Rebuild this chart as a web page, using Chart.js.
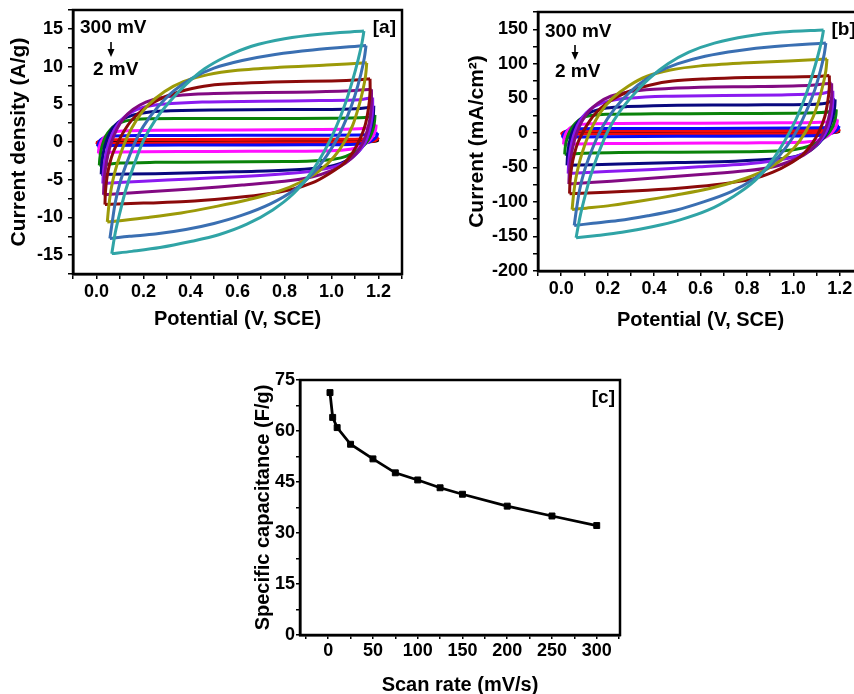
<!DOCTYPE html>
<html><head><meta charset="utf-8">
<script src="https://cdn.jsdelivr.net/npm/chart.js@4.4.0/dist/chart.umd.min.js"></script>
<style>
html,body{margin:0;padding:0;width:854px;height:694px;overflow:hidden;background:#fff;position:relative}
canvas{position:absolute}
</style></head><body>
<canvas id="ca" width="420" height="340" style="left:0;top:0"></canvas>
<canvas id="cb" width="413" height="340" style="left:460px;top:0"></canvas>
<canvas id="cc" width="400" height="350" style="left:230px;top:355px"></canvas>
<script>
// ---------- DATA ----------
const scanRates = [300, 250, 200, 150, 125, 100, 75, 50, 25, 10, 5, 2]; // mV/s
const curveColors = ['#30A4A6','#3A6FB2','#9C9A08','#8B0A0A','#820A82','#8A1AF0','#08087E','#0A820A','#FF10FF','#0A0AF5','#F50A0A','#000000'];

// Panel [a]: current density (A/g) vs potential (V) — forward (anodic) and reverse (cathodic) sweeps
const aForward = [
 [[0.065,-14.8],[0.08,-12.0],[0.1,-9.3],[0.125,-6.3],[0.16,-3.0],[0.2,0.2],[0.25,2.9],[0.31,5.3],[0.38,7.6],[0.46,9.7],[0.55,11.3],[0.66,12.7],[0.8,13.7],[0.95,14.3],[1.138,14.7]],
 [[0.057,-12.8],[0.067,-10.6],[0.08,-8.0],[0.1,-5.4],[0.126,-3.0],[0.16,-0.3],[0.2,2.1],[0.26,4.6],[0.33,6.8],[0.41,8.5],[0.5,9.8],[0.62,10.8],[0.76,11.6],[0.92,12.2],[1.147,12.8]],
 [[0.046,-10.6],[0.052,-8.6],[0.062,-6.3],[0.078,-4.0],[0.1,-1.8],[0.13,0.6],[0.17,2.9],[0.22,4.9],[0.29,6.7],[0.37,8.0],[0.47,8.9],[0.6,9.5],[0.78,9.9],[0.98,10.2],[1.15,10.5]],
 [[0.036,-8.3],[0.038,-6.6],[0.045,-4.6],[0.056,-2.9],[0.072,-1.3],[0.095,0.2],[0.12,1.6],[0.15,2.9],[0.19,4.1],[0.24,5.2],[0.3,6.1],[0.38,6.9],[0.48,7.5],[0.62,7.8],[0.8,8.0],[1.0,8.1],[1.12,8.25],[1.164,8.4]],
 [[0.03,-7.0],[0.032,-5.4],[0.038,-3.6],[0.048,-1.8],[0.063,-0.1],[0.085,1.6],[0.115,3.1],[0.155,4.3],[0.21,5.3],[0.28,5.9],[0.4,6.3],[0.6,6.5],[0.85,6.6],[1.08,6.8],[1.17,7.0]],
 [[0.027,-5.5],[0.029,-4.2],[0.034,-2.7],[0.043,-1.2],[0.057,0.3],[0.077,1.7],[0.105,2.9],[0.145,3.9],[0.2,4.6],[0.28,5.0],[0.45,5.3],[0.7,5.4],[0.95,5.5],[1.12,5.6],[1.175,5.9]],
 [[0.02,-4.3],[0.022,-3.1],[0.027,-1.8],[0.035,-0.6],[0.048,0.6],[0.066,1.7],[0.092,2.6],[0.13,3.3],[0.19,3.8],[0.28,4.1],[0.5,4.25],[0.8,4.3],[1.05,4.35],[1.14,4.5],[1.18,4.8]],
 [[0.012,-3.1],[0.014,-2.2],[0.019,-1.2],[0.027,-0.2],[0.04,0.8],[0.058,1.6],[0.085,2.3],[0.125,2.8],[0.19,3.05],[0.4,3.1],[0.7,3.1],[1.0,3.15],[1.12,3.2],[1.165,3.35],[1.185,3.6]],
 [[0.008,-1.5],[0.01,-0.9],[0.015,-0.3],[0.024,0.3],[0.04,0.85],[0.065,1.25],[0.11,1.45],[0.25,1.55],[0.6,1.6],[0.95,1.65],[1.12,1.75],[1.17,1.95],[1.19,2.3]],
 [[0.004,-0.6],[0.008,-0.2],[0.016,0.25],[0.035,0.6],[0.07,0.8],[0.2,0.86],[0.6,0.88],[1.0,0.9],[1.15,0.95],[1.185,1.05],[1.197,1.2]],
 [[0.0,-0.3],[0.006,0.0],[0.02,0.2],[0.06,0.3],[0.3,0.33],[0.8,0.35],[1.1,0.38],[1.18,0.45],[1.2,0.6]],
 [[0.0,-0.15],[0.01,0.05],[0.05,0.12],[0.5,0.15],[1.0,0.16],[1.17,0.2],[1.2,0.3]]
];
const aReverse = [
 [[1.138,14.7],[1.13,13.2],[1.114,11.0],[1.09,8.2],[1.06,5.2],[1.02,2.0],[0.97,-1.2],[0.91,-4.2],[0.84,-6.8],[0.75,-9.0],[0.64,-10.9],[0.52,-12.3],[0.4,-13.2],[0.27,-14.0],[0.15,-14.5],[0.065,-14.8]],
 [[1.147,12.8],[1.14,11.2],[1.125,9.0],[1.1,6.2],[1.07,3.6],[1.03,0.8],[0.98,-1.8],[0.92,-4.2],[0.84,-6.4],[0.74,-8.2],[0.62,-9.7],[0.5,-10.8],[0.38,-11.6],[0.25,-12.2],[0.14,-12.5],[0.057,-12.8]],
 [[1.15,10.5],[1.145,8.8],[1.133,6.8],[1.115,4.6],[1.09,2.2],[1.055,0.0],[1.01,-2.0],[0.95,-3.8],[0.87,-5.3],[0.77,-6.6],[0.64,-7.7],[0.5,-8.6],[0.36,-9.4],[0.22,-10.0],[0.11,-10.4],[0.046,-10.6]],
 [[1.164,8.4],[1.164,6.6],[1.157,4.4],[1.143,2.2],[1.12,0.3],[1.09,-1.4],[1.05,-2.9],[0.99,-4.2],[0.92,-5.4],[0.83,-6.3],[0.7,-7.0],[0.55,-7.5],[0.38,-7.9],[0.2,-8.1],[0.036,-8.3]],
 [[1.17,7.0],[1.17,5.3],[1.165,3.4],[1.153,1.6],[1.135,0.0],[1.105,-1.5],[1.06,-2.8],[1.0,-3.8],[0.92,-4.6],[0.8,-5.2],[0.62,-5.7],[0.42,-6.2],[0.22,-6.6],[0.03,-7.0]],
 [[1.175,5.9],[1.175,4.4],[1.17,2.8],[1.16,1.3],[1.143,-0.1],[1.115,-1.3],[1.075,-2.4],[1.02,-3.2],[0.93,-3.8],[0.8,-4.2],[0.6,-4.6],[0.4,-4.9],[0.2,-5.2],[0.027,-5.5]],
 [[1.18,4.8],[1.178,3.6],[1.171,2.3],[1.158,1.0],[1.138,-0.3],[1.11,-1.4],[1.07,-2.4],[1.01,-3.1],[0.92,-3.5],[0.75,-3.8],[0.5,-4.0],[0.25,-4.2],[0.02,-4.3]],
 [[1.185,3.6],[1.183,2.7],[1.177,1.7],[1.166,0.8],[1.15,0.0],[1.125,-0.8],[1.09,-1.5],[1.04,-2.1],[0.96,-2.45],[0.8,-2.6],[0.5,-2.65],[0.25,-2.7],[0.1,-2.8],[0.012,-3.1]],
 [[1.19,2.3],[1.188,1.7],[1.182,1.1],[1.17,0.5],[1.15,-0.1],[1.12,-0.6],[1.08,-0.95],[1.0,-1.15],[0.8,-1.22],[0.5,-1.25],[0.2,-1.3],[0.06,-1.35],[0.008,-1.5]],
 [[1.197,1.2],[1.193,0.8],[1.18,0.35],[1.16,0.0],[1.13,-0.22],[1.08,-0.33],[0.9,-0.38],[0.5,-0.4],[0.2,-0.42],[0.05,-0.45],[0.004,-0.6]],
 [[1.2,0.6],[1.195,0.35],[1.18,0.12],[1.15,0.0],[1.1,-0.06],[0.8,-0.1],[0.4,-0.12],[0.1,-0.15],[0.0,-0.3]],
 [[1.2,0.3],[1.19,0.12],[1.16,0.02],[1.0,-0.04],[0.5,-0.05],[0.1,-0.07],[0.0,-0.15]]
];

// Panel [b]: current (mA/cm²) vs potential (V)
const bForward = [
 [[0.064,-152],[0.08,-123],[0.1,-95],[0.125,-64],[0.16,-30],[0.2,2],[0.25,30],[0.31,55],[0.38,79],[0.46,100],[0.55,117],[0.66,130],[0.8,140],[0.95,146],[1.13,149]],
 [[0.056,-134],[0.066,-110],[0.079,-83],[0.099,-56],[0.125,-31],[0.16,-3],[0.2,21],[0.26,47],[0.33,69],[0.41,87],[0.5,100],[0.62,111],[0.76,119],[0.92,125],[1.14,130]],
 [[0.047,-111],[0.053,-90],[0.063,-66],[0.079,-42],[0.1,-19],[0.13,6],[0.17,30],[0.22,50],[0.29,68],[0.37,82],[0.47,91],[0.6,97],[0.78,101],[0.98,104],[1.145,107]],
 [[0.036,-88],[0.038,-70],[0.045,-49],[0.056,-31],[0.072,-14],[0.095,2],[0.12,16],[0.15,29],[0.19,41],[0.24,52],[0.3,61],[0.38,69],[0.48,75],[0.62,78],[0.8,80],[1.0,81],[1.12,82],[1.155,83]],
 [[0.033,-74],[0.035,-57],[0.041,-38],[0.051,-19],[0.066,-1],[0.088,16],[0.118,31],[0.158,43],[0.213,53],[0.283,59],[0.4,63],[0.6,66],[0.85,67],[1.08,69],[1.165,72]],
 [[0.03,-59],[0.032,-45],[0.037,-29],[0.046,-13],[0.06,3],[0.08,17],[0.108,29],[0.148,39],[0.203,46],[0.283,50],[0.45,53],[0.7,54],[0.95,55],[1.12,57],[1.17,61]],
 [[0.025,-47],[0.027,-34],[0.032,-20],[0.04,-7],[0.053,5],[0.071,15],[0.097,24],[0.135,31],[0.195,36],[0.285,38],[0.5,40],[0.8,40.5],[1.05,41],[1.14,43],[1.18,48.6]],
 [[0.015,-31],[0.017,-22],[0.022,-12],[0.03,-3],[0.043,6],[0.061,14],[0.088,21],[0.128,25],[0.193,27],[0.4,27.5],[0.7,28],[1.0,28.5],[1.12,29.5],[1.165,31],[1.185,34]],
 [[0.01,-16.7],[0.012,-10],[0.017,-3],[0.026,3],[0.042,8],[0.067,11.5],[0.112,13],[0.25,13.5],[0.6,14],[0.95,14.5],[1.12,15.5],[1.17,17],[1.19,19.6]],
 [[0.005,-7],[0.009,-3],[0.017,1.5],[0.036,4.5],[0.071,6],[0.2,6.3],[0.6,6.5],[1.0,7],[1.15,7.8],[1.185,8.8],[1.197,9.9]],
 [[0.0,-3],[0.006,0],[0.02,2],[0.06,2.8],[0.3,3],[0.8,3.2],[1.1,3.5],[1.18,4.2],[1.2,5.5]],
 [[0.0,-1.8],[0.01,0.5],[0.05,1.2],[0.5,1.5],[1.0,1.6],[1.17,2],[1.2,3]]
];
const bReverse = [
 [[1.13,149],[1.122,134],[1.106,112],[1.082,84],[1.052,53],[1.012,20],[0.962,-12],[0.902,-43],[0.832,-70],[0.742,-92],[0.632,-112],[0.512,-126],[0.392,-136],[0.262,-144],[0.145,-149],[0.064,-152]],
 [[1.14,130],[1.133,114],[1.118,92],[1.093,63],[1.063,37],[1.023,8],[0.973,-19],[0.913,-43],[0.833,-66],[0.733,-85],[0.613,-100],[0.493,-112],[0.373,-120],[0.245,-127],[0.137,-131],[0.056,-134]],
 [[1.145,107],[1.14,90],[1.128,70],[1.11,47],[1.085,23],[1.05,0],[1.005,-21],[0.945,-40],[0.865,-56],[0.765,-69],[0.635,-81],[0.495,-90],[0.355,-98],[0.215,-105],[0.107,-109],[0.047,-111]],
 [[1.155,83],[1.155,66],[1.148,45],[1.135,23],[1.112,3],[1.082,-15],[1.042,-31],[0.982,-45],[0.912,-57],[0.822,-67],[0.692,-74],[0.542,-79],[0.372,-83],[0.195,-86],[0.036,-88]],
 [[1.165,72],[1.165,54],[1.16,35],[1.148,16],[1.13,0],[1.1,-16],[1.055,-30],[0.995,-40],[0.915,-49],[0.795,-55],[0.615,-60],[0.415,-65],[0.215,-70],[0.033,-74]],
 [[1.17,61],[1.17,45],[1.165,29],[1.155,13],[1.138,-1],[1.11,-14],[1.07,-25],[1.015,-34],[0.925,-40],[0.795,-45],[0.595,-49],[0.395,-53],[0.195,-56],[0.03,-59]],
 [[1.18,48.6],[1.178,37],[1.171,24],[1.158,11],[1.138,-3],[1.11,-15],[1.07,-26],[1.01,-34],[0.92,-38],[0.75,-41],[0.5,-43],[0.25,-45],[0.025,-47]],
 [[1.185,34],[1.183,25],[1.177,16],[1.166,7],[1.15,-1],[1.125,-9],[1.09,-16],[1.04,-22],[0.96,-26],[0.8,-27.5],[0.5,-28],[0.25,-28.5],[0.1,-29.5],[0.015,-31]],
 [[1.19,19.6],[1.188,14],[1.182,8],[1.17,2],[1.15,-4],[1.12,-9],[1.08,-12.5],[1.0,-14],[0.8,-14.5],[0.5,-15],[0.2,-15.5],[0.06,-16],[0.01,-16.7]],
 [[1.197,9.9],[1.193,6],[1.18,2],[1.16,-1],[1.13,-3],[1.08,-4],[0.9,-4.5],[0.5,-5],[0.2,-5.5],[0.05,-6],[0.005,-7]],
 [[1.2,5.5],[1.195,3],[1.18,1],[1.15,-0.3],[1.1,-1],[0.8,-1.3],[0.4,-1.5],[0.1,-1.8],[0.0,-3]],
 [[1.2,3],[1.19,1.2],[1.16,0.2],[1.0,-0.4],[0.5,-0.5],[0.1,-0.7],[0.0,-1.8]]
];

// Panel [c]: specific capacitance vs scan rate
const capRates  = [2, 5, 10, 25, 50, 75, 100, 125, 150, 200, 250, 300];
const capValues = [71.3, 64.0, 61.0, 56.1, 51.8, 47.7, 45.6, 43.3, 41.4, 37.9, 35.0, 32.2];

// ---------- RENDERING ----------
const FONT = '"Liberation Sans", Arial, Helvetica, sans-serif';
const tickFont = {family: FONT, size: 18, weight: 'bold'};
const titleFont = {family: FONT, size: 20, weight: 'bold'};
const yTitleFontCV = {family: FONT, size: 21, weight: 'bold'};
function isMajor(v, step) { const r = v / step; return Math.abs(r - Math.round(r)) < 1e-6; }
function noPad(s) { s.paddingTop = 0; s.paddingBottom = 0; s.paddingLeft = 0; s.paddingRight = 0; }

const framePlugin = {
  id: 'frame',
  afterDraw(chart) {
    const {ctx, chartArea: a} = chart;
    ctx.save();
    ctx.strokeStyle = '#000'; ctx.lineWidth = 2.5;
    ctx.strokeRect(a.left, a.top, a.right - a.left, a.bottom - a.top);
    ctx.restore();
  }
};
const notesPlugin = {
  id: 'notes',
  afterDraw(chart, args, opts) {
    const ctx = chart.ctx;
    ctx.save();
    ctx.fillStyle = '#000'; ctx.strokeStyle = '#000';
    ctx.font = 'bold 19px ' + FONT;
    ctx.textBaseline = 'middle';
    (opts.items || []).forEach(t => { ctx.textAlign = t.align || 'left'; ctx.fillText(t.text, t.x, t.y); });
    (opts.arrows || []).forEach(a => {
      ctx.lineWidth = 1.6;
      ctx.beginPath(); ctx.moveTo(a.x, a.y1); ctx.lineTo(a.x, a.y2 - 5); ctx.stroke();
      ctx.beginPath(); ctx.moveTo(a.x - 3.5, a.y2 - 8); ctx.lineTo(a.x + 3.5, a.y2 - 8); ctx.lineTo(a.x, a.y2); ctx.closePath(); ctx.fill();
    });
    ctx.restore();
  }
};

function cvDatasets(fwd, rev) {
  const ds = [];
  fwd.forEach((pts, i) => {
    [pts, rev[i]].forEach(p => ds.push({
      label: scanRates[i] + ' mV/s',
      data: p.map(([x, y]) => ({x, y})),
      borderColor: curveColors[i], backgroundColor: curveColors[i],
      borderWidth: 3, pointRadius: 0, showLine: true, fill: false,
      tension: 0.3, order: i
    }));
  });
  return ds;
}

function axisCommon(extra) {
  return Object.assign({
    type: 'linear',
    grid: {drawOnChartArea: false, drawTicks: true, tickLength: 5, color: '#000', lineWidth: 1.5},
    border: {display: true, color: '#000', width: 2.5}
  }, extra);
}

function cvChart(id, fwd, rev, cfg) {
  return new Chart(document.getElementById(id), {
    type: 'scatter',
    data: {datasets: cvDatasets(fwd, rev)},
    options: {
      responsive: false, animation: false, devicePixelRatio: 1,
      layout: {padding: cfg.padding},
      plugins: {legend: {display: false}, tooltip: {enabled: false}, notes: cfg.notes},
      scales: {
        x: axisCommon({
          min: -0.1, max: 1.3,
          afterFit: s => { s.height = cfg.xh; noPad(s); },
          ticks: {stepSize: 0.1, autoSkip: false, includeBounds: false, maxRotation: 0, padding: 2, font: tickFont, color: '#000',
                  callback: v => isMajor(v, 0.2) ? (Math.abs(v) < 1e-9 ? '0.0' : v.toFixed(1)) : ''},
          title: {display: true, text: 'Potential (V, SCE)', font: titleFont, color: '#000', padding: {top: 0, bottom: cfg.xtpad}}
        }),
        y: axisCommon({
          min: cfg.ymin, max: cfg.ymax,
          afterFit: s => { s.width = cfg.yw; noPad(s); },
          ticks: {stepSize: cfg.ystep, autoSkip: false, includeBounds: false, padding: 5, font: tickFont, color: '#000',
                  callback: v => isMajor(v, cfg.ymajor) ? String(Math.round(v)) : ''},
          title: {display: true, text: cfg.ytitle, font: yTitleFontCV, color: '#000', padding: {top: cfg.ytpad, bottom: 0}}
        })
      }
    },
    plugins: [framePlugin, notesPlugin]
  });
}

cvChart('ca', aForward, aReverse, {
  padding: {top: 10, right: 18, left: 0, bottom: 0}, xh: 66, yw: 73, xtpad: 8.7, ytpad: 7,
  ymin: -17.5, ymax: 17.5, ystep: 2.5, ymajor: 5, ytitle: 'Current density (A/g)',
  notes: {items: [{text: '300 mV', x: 80, y: 28}, {text: '2 mV', x: 93, y: 70}, {text: '[a]', x: 396, y: 28, align: 'right'}],
          arrows: [{x: 111, y1: 42, y2: 57}]}
});

cvChart('cb', bForward, bReverse, {
  padding: {top: 12, right: 10, left: 0, bottom: 0}, xh: 69, yw: 78, xtpad: 8, ytpad: 5,
  ymin: -200, ymax: 175, ystep: 25, ymajor: 50, ytitle: 'Current (mA/cm\u00B2)',
  notes: {items: [{text: '300 mV', x: 85, y: 31.5}, {text: '2 mV', x: 95, y: 71.5}, {text: '[b]', x: 371.5, y: 30}],
          arrows: [{x: 115, y1: 45, y2: 60}]}
});

new Chart(document.getElementById('cc'), {
  type: 'scatter',
  data: {datasets: [{
    label: 'Specific capacitance',
    data: capRates.map((r, i) => ({x: r, y: capValues[i]})),
    showLine: true, borderColor: '#000', backgroundColor: '#000', borderWidth: 2.8,
    pointStyle: 'rect', pointRadius: 4.2, pointBorderWidth: 1, tension: 0
  }]},
  options: {
    responsive: false, animation: false, devicePixelRatio: 1,
    layout: {padding: {top: 25, right: 10, left: 0, bottom: 0}},
    plugins: {legend: {display: false}, tooltip: {enabled: false},
              notes: {items: [{text: '[c]', x: 385, y: 43, align: 'right'}]}},
    scales: {
      x: axisCommon({
        min: -31.5, max: 326,
        afterFit: s => { s.height = 70; noPad(s); },
        grid: {drawOnChartArea: false, drawTicks: true, tickLength: 4, color: '#000', lineWidth: 1.5},
        ticks: {stepSize: 25, autoSkip: false, includeBounds: false, maxRotation: 0, padding: 1, font: tickFont, color: '#000',
                callback: v => isMajor(v, 50) ? String(Math.round(v)) : ''},
        title: {display: true, text: 'Scan rate (mV/s)', font: titleFont, color: '#000', padding: {top: 0, bottom: 8}}
      }),
      y: axisCommon({
        min: 0, max: 75,
        afterFit: s => { s.width = 70; noPad(s); },
        grid: {drawOnChartArea: false, drawTicks: true, tickLength: 4, color: '#000', lineWidth: 1.5},
        ticks: {stepSize: 7.5, autoSkip: false, includeBounds: false, padding: 1, font: tickFont, color: '#000',
                callback: v => isMajor(v, 15) ? String(Math.round(v)) : ''},
        title: {display: true, text: 'Specific capacitance (F/g)', font: titleFont, color: '#000', padding: {top: 21, bottom: 0}}
      })
    }
  },
  plugins: [framePlugin, notesPlugin]
});
</script>
</body></html>
